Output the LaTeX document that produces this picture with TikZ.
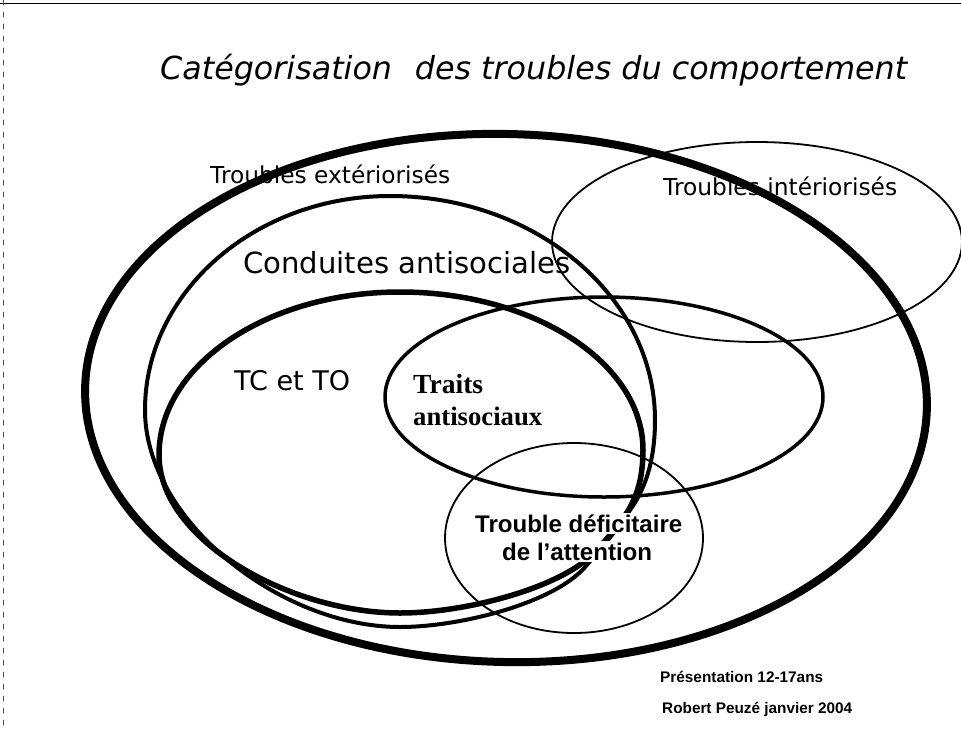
\documentclass[tikz,border=0pt]{standalone}
\usepackage{fontspec}
\usepackage{graphicx}
\setmainfont{Liberation Sans}
\newfontfamily\comicf{DejaVu Sans}[ItalicFont={DejaVu Sans Oblique}]
\newfontfamily\timesf{Liberation Serif}
\newcommand\fitw[2]{\resizebox{#1pt}{!}{#2}}
\begin{document}
\begin{tikzpicture}[x=1pt,y=-1pt,
  txt/.style={inner sep=0pt, anchor=base west},
  boxtxt/.style={inner sep=1.5pt, anchor=base west, fill=white},
  outerline/.style={line width=8pt},
  condline/.style={line width=4pt},
  tcline/.style={line width=5.5pt},
  traitline/.style={line width=3.5pt},
  thinline/.style={line width=1.8pt},
  line join=round, line cap=round]
\useasboundingbox (0,0) rectangle (961,729);
\clip (0,0) rectangle (961,729);

% scan border traces
\draw[line width=1.3pt] (0,3.5) -- (961,3.5);
\draw[line width=1pt, black!70, dash pattern=on 5pt off 7pt] (3,0) -- (3,729);

% texts lying under the lines
\node[txt] (title) at (160,79) {\fitw{747}{\comicf\itshape Catégorisation\hspace{0.4em} des troubles du comportement}};
\node[txt] (ext) at (210,183) {\fitw{240}{\comicf Troubles extériorisés}};
\node[txt] (int) at (663,195) {\fitw{234}{\comicf Troubles intériorisés}};
\node[txt] (cond) at (243,273) {\fitw{327}{\comicf Conduites antisociales}};
\node[txt] (tcto) at (234,390) {\fitw{116}{\comicf TC et TO}};
\node[txt] (tr1) at (413,393) {\fitw{70}{\timesf\bfseries Traits}};
\node[txt] (tr2) at (413,425) {\fitw{129}{\timesf\bfseries antisociaux}};
\node[txt] (foot1) at (660,682) {\fitw{163}{\bfseries Présentation 12-17ans}};
\node[txt] (foot2) at (662,713) {\fitw{190}{\bfseries Robert Peuzé janvier 2004}};

% Troubles intériorisés
\draw[thinline] (757,242) ellipse [x radius=205, y radius=100];
% Traits antisociaux
\draw[traitline] (604,397) ellipse [x radius=219, y radius=100];
% Trouble déficitaire de l'attention
\draw[thinline] (574,538) ellipse [x radius=129, y radius=95];

% Troubles extériorisés (outer thick)
\draw[outerline, rotate around={-1.5:(506,398)}] (506,398) ellipse [x radius=421, y radius=264];

% Conduites antisociales
\draw[condline] (145,410)
  .. controls (145,292) and (255,196) .. (390,196)
  .. controls (536,196) and (655,297) .. (655,420)
  .. controls (655,465) and (643,492) .. (630,510)
  .. controls (617,530) and (600,550) .. (586,566)
  .. controls (555,603) and (460,627) .. (400,627)
  .. controls (280,627) and (145,520) .. (145,410) -- cycle;

% TC et TO
\draw[tcline] (159,455)
  .. controls (159,365) and (267,292) .. (400,292)
  .. controls (534,292) and (643,363) .. (643,450)
  .. controls (643,480) and (636,497) .. (628,511)
  .. controls (615,530) and (600,548) .. (585,561)
  .. controls (545,592) and (460,613) .. (400,613)
  .. controls (290,613) and (159,540) .. (159,455) -- cycle;

% text with white background over the curves
\node[boxtxt] (tda1) at (473.5,532) {\fitw{207}{\bfseries Trouble déficitaire}};
\node[boxtxt] (tda2) at (500.5,560) {\fitw{150}{\bfseries de l’attention}};
\end{tikzpicture}
\end{document}
